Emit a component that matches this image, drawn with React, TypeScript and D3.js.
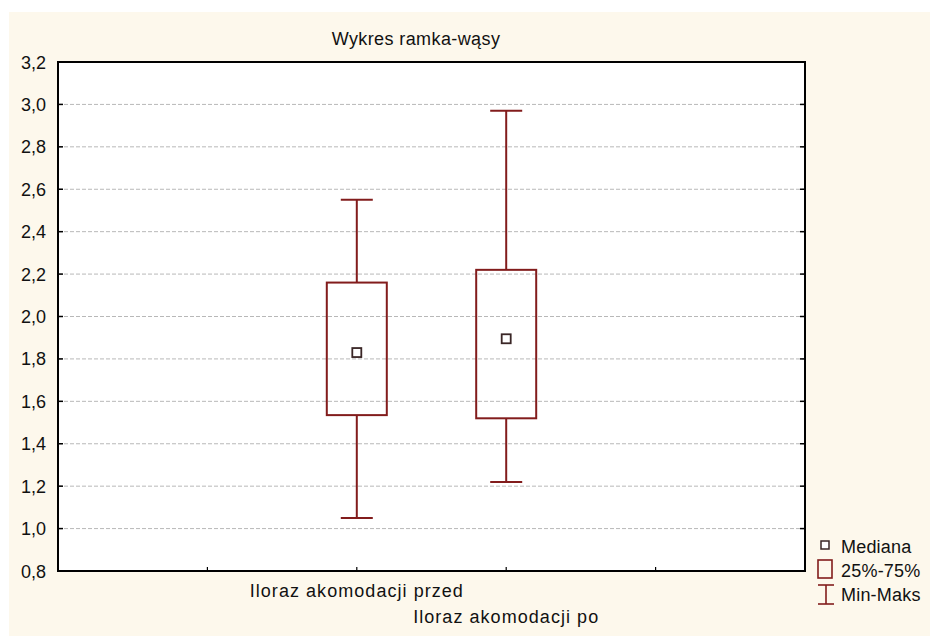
import * as d3 from "d3";

const categories = ["Iloraz akomodacji przed", "Iloraz akomodacji po"];
const mins = [1.05, 1.22];
const q1s = [1.535, 1.52];
const medians = [1.83, 1.895];
const q3s = [2.16, 2.22];
const maxs = [2.55, 2.97];
const yTicks = [0.8, 1.0, 1.2, 1.4, 1.6, 1.8, 2.0, 2.2, 2.4, 2.6, 2.8, 3.0, 3.2];
const legendItems = ["Mediana", "25%-75%", "Min-Maks"];

const W = 930;
const H = 636;
const margin = { top: 62, right: 125, bottom: 65, left: 58 };
const boxColor = "#821c1c";
const font = "Arial, 'Liberation Sans', sans-serif";

export default function App() {
  const x0 = margin.left;
  const x1 = W - margin.right;
  const y0 = H - margin.bottom;
  const y1 = margin.top;

  const y = d3.scaleLinear().domain([0.8, 3.2]).range([y0, y1]);
  // Statistica-style: 5 slots on x, categories sit on the 2nd and 3rd inner ticks
  const x = d3.scaleLinear().domain([0, 5]).range([x0, x1]);
  const xTicks = d3.range(1, 5);
  const catPos = (i: number) => x(i + 2);
  const fmt = (v: number) => d3.format(".1f")(v).replace(".", ",");

  const boxW = 60;
  const capW = 32;

  return (
    <svg
      width={W}
      height={H}
      style={{ position: "absolute", left: 0, top: 0 }}
      fontFamily={font}
    >
      <rect x={0} y={0} width={W} height={H} fill="#ffffff" />
      <rect x={9} y={12} width={W - 9} height={H - 12} fill="#fdf8ec" />
      <rect x={x0} y={y1} width={x1 - x0} height={y0 - y1} fill="#ffffff" />

      <text x={416} y={45} textAnchor="middle" fontSize={18} letterSpacing={0.4} fill="#111">
        Wykres ramka-wąsy
      </text>

      {/* grid */}
      {yTicks.slice(1, -1).map((t) => (
        <line
          key={"g" + t}
          x1={x0}
          x2={x1}
          y1={y(t)}
          y2={y(t)}
          stroke="#b8b8b8"
          strokeWidth={1}
          strokeDasharray="4,2"
        />
      ))}

      {/* y ticks and labels */}
      {yTicks.map((t) => (
        <g key={"t" + t}>
          <line x1={x0} x2={x0 + 5} y1={y(t)} y2={y(t)} stroke="#000" strokeWidth={1.5} />
          <line x1={x1 - 5} x2={x1} y1={y(t)} y2={y(t)} stroke="#000" strokeWidth={1.5} />
          <text x={x0 - 12} y={y(t) + 6.5} textAnchor="end" fontSize={18} fill="#111">
            {fmt(t)}
          </text>
        </g>
      ))}

      {/* x ticks */}
      {xTicks.map((t) => (
        <line key={"x" + t} x1={x(t)} x2={x(t)} y1={y0} y2={y0 - 4} stroke="#000" strokeWidth={1.2} />
      ))}

      {/* boxes */}
      {categories.map((c, i) => {
        const cx = catPos(i);
        return (
          <g key={c} stroke={boxColor} strokeWidth={2} fill="none">
            <line x1={cx} x2={cx} y1={y(maxs[i])} y2={y(q3s[i])} />
            <line x1={cx} x2={cx} y1={y(q1s[i])} y2={y(mins[i])} />
            <line x1={cx - capW / 2} x2={cx + capW / 2} y1={y(maxs[i])} y2={y(maxs[i])} />
            <line x1={cx - capW / 2} x2={cx + capW / 2} y1={y(mins[i])} y2={y(mins[i])} />
            <rect x={cx - boxW / 2} y={y(q3s[i])} width={boxW} height={y(q1s[i]) - y(q3s[i])} />
            <rect
              x={cx - 4.5}
              y={y(medians[i]) - 4.5}
              width={9}
              height={9}
              fill="#fff"
              stroke="#3a2626"
              strokeWidth={1.8}
            />
          </g>
        );
      })}

      {/* category labels */}
      {categories.map((c, i) => (
        <text
          key={"l" + c}
          x={catPos(i)}
          y={y0 + 26 + i * 26}
          textAnchor="middle"
          fontSize={18}
          letterSpacing={1.05}
          fill="#111"
        >
          {c}
        </text>
      ))}

      {/* frame */}
      <rect x={x0} y={y1} width={x1 - x0} height={y0 - y1} fill="none" stroke="#000" strokeWidth={2} />

      {/* legend */}
      <g>
        <rect x={821} y={541} width={8} height={8} fill="#fff" stroke="#3a2626" strokeWidth={1.5} />
        <rect x={818} y={560} width={14} height={18} fill="none" stroke={boxColor} strokeWidth={1.6} />
        <line x1={826} x2={826} y1={585} y2={604} stroke={boxColor} strokeWidth={1.6} />
        <line x1={818} x2={834} y1={585} y2={585} stroke={boxColor} strokeWidth={1.6} />
        <line x1={818} x2={834} y1={604} y2={604} stroke={boxColor} strokeWidth={1.6} />
        {legendItems.map((l, i) => (
          <text key={l} x={841} y={552.5 + i * 24} fontSize={18} letterSpacing={0.2} fill="#111">
            {l}
          </text>
        ))}
      </g>
    </svg>
  );
}
